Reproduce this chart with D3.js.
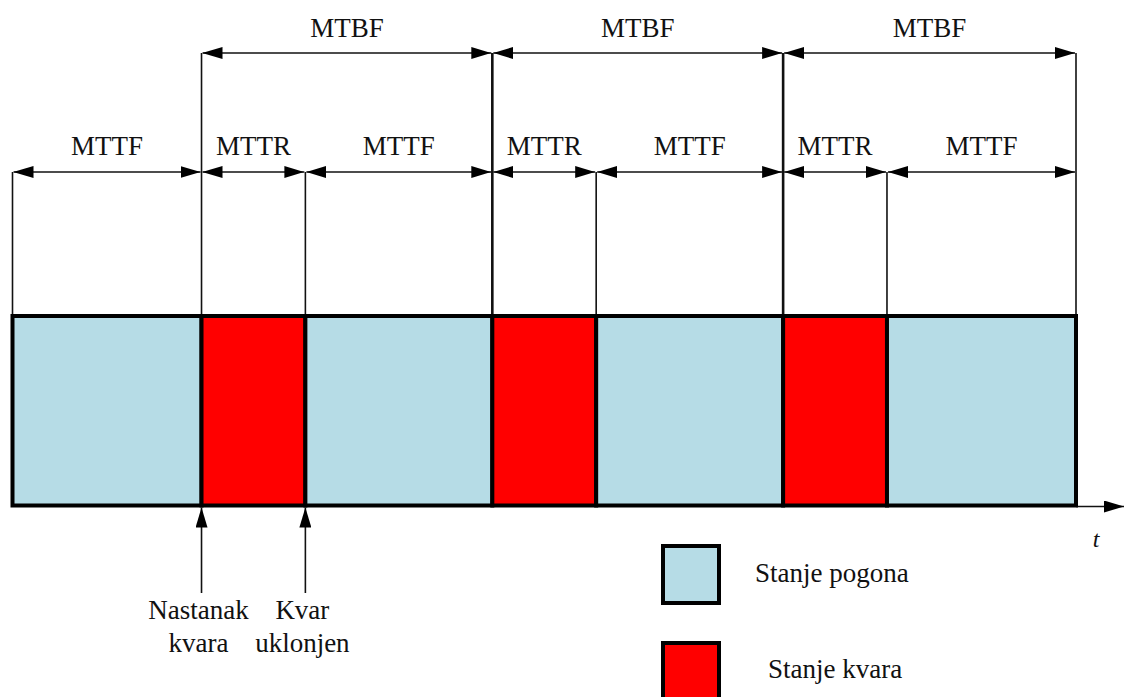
<!DOCTYPE html>
<meta charset="utf-8">
<style>
body { margin: 0; background: #fff; }
.ext { stroke: #111; stroke-width: 1.6px; }
.dim { stroke: #111; stroke-width: 1.6px; }
.seg { stroke: #000; stroke-width: 4px; }
</style>
<svg width="1129" height="697"></svg>
<script src="https://d3js.org/d3.v7.min.js"></script>
<script>
// segment durations along the time axis (units), and the state in each
var states = ["pogon", "kvar", "pogon", "kvar", "pogon", "kvar", "pogon"];
var durations = [1.82, 1.0, 1.8, 1.0, 1.8, 1.0, 1.82];
var segLabels = ["MTTF", "MTTR", "MTTF", "MTTR", "MTTF", "MTTR", "MTTF"];
// MTBF spans: from segment index to segment index (inclusive)
var mtbfSpans = [[1, 2], [3, 4], [5, 6]];
var mtbfLabel = "MTBF";
var eventLabels = [["Nastanak", "kvara"], ["Kvar", "uklonjen"]];
var legendLabels = ["Stanje pogona", "Stanje kvara"];
var colors = { pogon: "#b6dce6", kvar: "#ff0000" };

var svg = d3.select("svg");

function label(x, y, str, anchor) {
  return svg.append("text")
      .attr("x", x).attr("y", y)
      .attr("text-anchor", anchor || "start")
      .attr("font-family", "'Liberation Serif', 'Times New Roman', serif")
      .attr("font-size", 27)
      .attr("fill", "#111")
      .text(str);
}

var starts = [0];
durations.forEach(function(d, i) { starts.push(starts[i] + d); });
var total = starts[starts.length - 1];

var x = d3.scaleLinear().domain([0, total]).range([12.5, 1076]);

var barTop = 316, barBottom = 505.5;
var yDim = 172, yMtbf = 53;

var defs = svg.append("defs");
defs.append("marker")
    .attr("id", "arr")
    .attr("markerUnits", "userSpaceOnUse")
    .attr("viewBox", "0 -6 20 12")
    .attr("markerWidth", 20).attr("markerHeight", 12)
    .attr("refX", 20).attr("refY", 0)
    .attr("orient", "auto-start-reverse")
  .append("path")
    .attr("d", "M0,-6L20,0L0,6Z")
    .attr("fill", "#000");

// extension lines
var mtbfEdges = [];
mtbfSpans.forEach(function(s) { mtbfEdges.push(starts[s[0]]); mtbfEdges.push(starts[s[1] + 1]); });

starts.forEach(function(t) {
  var top = mtbfEdges.indexOf(t) >= 0 ? yMtbf : yDim;
  var inner = t > starts[1] && t < total && mtbfEdges.indexOf(t) >= 0;
  svg.append("line")
      .attr("class", "ext")
      .attr("x1", x(t)).attr("x2", x(t))
      .attr("y1", top).attr("y2", barTop)
      .style("stroke-width", inner ? "2.6px" : null);
});

// MTTF / MTTR dimension arrows
durations.forEach(function(d, i) {
  svg.append("line")
      .attr("class", "dim")
      .attr("x1", x(starts[i]) + 1).attr("x2", x(starts[i + 1]) - 1)
      .attr("y1", yDim).attr("y2", yDim)
      .attr("marker-start", "url(#arr)")
      .attr("marker-end", "url(#arr)");
  label(x(starts[i] + d / 2), 155, segLabels[i], "middle");
});

// MTBF dimension arrows
mtbfSpans.forEach(function(s) {
  var a = starts[s[0]], b = starts[s[1] + 1];
  svg.append("line")
      .attr("class", "dim")
      .attr("x1", x(a) + 1).attr("x2", x(b) - 1)
      .attr("y1", yMtbf).attr("y2", yMtbf)
      .attr("marker-start", "url(#arr)")
      .attr("marker-end", "url(#arr)");
  label(x((a + b) / 2), 37, mtbfLabel, "middle");
});

// time axis arrow
svg.append("line")
    .attr("x1", x(total)).attr("x2", 1124)
    .attr("y1", barBottom + 1).attr("y2", barBottom + 1)
    .attr("stroke", "#111").attr("stroke-width", 1.6)
    .attr("marker-end", "url(#arr)");
label(1096, 547, "t", "middle")
    .attr("font-style", "italic")
    .attr("font-size", 24);

// state bar
svg.selectAll("rect.seg")
  .data(durations)
  .enter().append("rect")
    .attr("class", "seg")
    .attr("x", function(d, i) { return x(starts[i]); })
    .attr("width", function(d, i) { return x(starts[i + 1]) - x(starts[i]); })
    .attr("y", barTop)
    .attr("height", barBottom - barTop)
    .attr("fill", function(d, i) { return colors[states[i]]; });

// event arrows under first failure
[starts[1], starts[2]].forEach(function(t, i) {
  svg.append("line")
      .attr("x1", x(t)).attr("x2", x(t))
      .attr("y1", 593).attr("y2", barBottom + 2)
      .attr("stroke", "#111").attr("stroke-width", 1.6)
      .attr("marker-end", "url(#arr)");
  var cx = x(t) - 3;
  label(cx, 619, eventLabels[i][0], "middle");
  label(cx, 652, eventLabels[i][1], "middle");
});

// legend
var legend = [
  { key: "pogon", y: 546, tx: 755, ty: 582 },
  { key: "kvar", y: 643, tx: 768, ty: 678 }
];
legend.forEach(function(l, i) {
  svg.append("rect")
      .attr("class", "seg")
      .attr("x", 663).attr("y", l.y)
      .attr("width", 56).attr("height", 57)
      .attr("fill", colors[l.key]);
  label(l.tx, l.ty, legendLabels[i]);
});
</script>
